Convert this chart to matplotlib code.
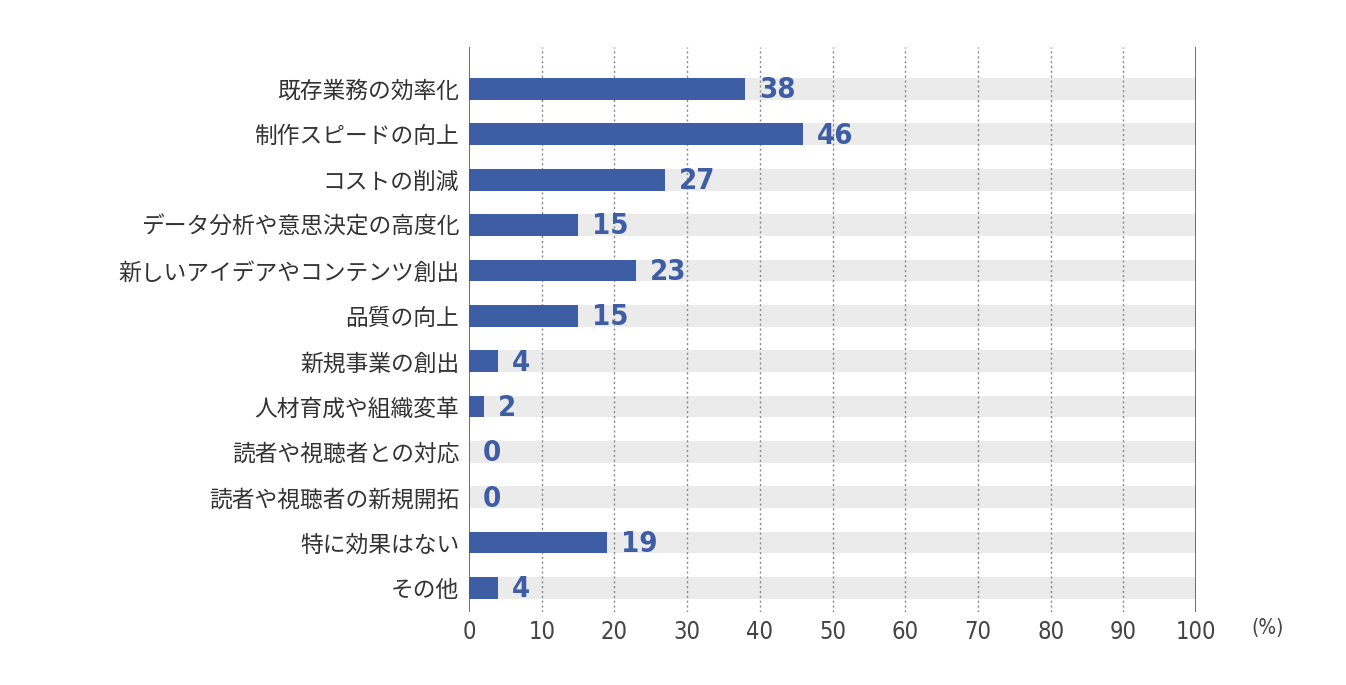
import matplotlib
matplotlib.use("Agg")
import matplotlib.pyplot as plt
from matplotlib import font_manager as fm

plt.rcParams['font.family'] = ['Noto Sans CJK JP', 'DejaVu Sans']

categories = ["既存業務の効率化", "制作スピードの向上", "コストの削減", "データ分析や意思決定の高度化",
              "新しいアイデアやコンテンツ創出", "品質の向上", "新規事業の創出", "人材育成や組織変革",
              "読者や視聴者との対応", "読者や視聴者の新規開拓", "特に効果はない", "その他"]
values = [38, 46, 27, 15, 23, 15, 4, 2, 0, 0, 19, 4]
xticks = [0, 10, 20, 30, 40, 50, 60, 70, 80, 90, 100]

BLUE = '#3d5da5'
GRAY = '#ebebeb'

fig = plt.figure(figsize=(13.46, 6.85), dpi=100)
ax = fig.add_axes([469/1346, 1-612/685, (1196-469)/1346, (612-47)/685])

ypos = list(range(len(categories)))
h = 0.48
ax.barh(ypos, [100]*len(ypos), height=h, color=GRAY, zorder=1)
for x in xticks[1:-1]:
    ax.axvline(x, color='#888888', lw=1, ls=(0, (1.5, 2)), zorder=2)
ax.axvline(0, color='#555555', lw=1.2, zorder=4)
ax.axvline(100, color='#555555', lw=1.2, zorder=4)
ax.barh(ypos, values, height=h, color=BLUE, zorder=3)

for y, v in zip(ypos, values):
    ax.annotate(str(v), xy=(v, y), xytext=(10, -1), textcoords='offset points',
                ha='left', va='center', fontsize=21, fontweight='bold',
                color=BLUE, family='DejaVu Sans', fontstretch='condensed', zorder=5)

ax.set_xlim(0, 100)
ax.set_ylim(11.53, -0.925)
ax.set_yticks(ypos)
ax.set_yticklabels(categories, fontsize=16.4, color='#333333')
ax.set_xticks(xticks)
ax.set_xticklabels([str(t) for t in xticks], fontsize=17, color='#444444',
                   family='DejaVu Sans', fontstretch='condensed')
ax.tick_params(axis='both', length=0)
ax.tick_params(axis='y', pad=7)
ax.tick_params(axis='x', pad=6)
for s in ax.spines.values():
    s.set_visible(False)

fig.text(1268/1346, 1-628/685, '(%)', ha='center', va='center', fontsize=15,
         color='#444444', family='DejaVu Sans', fontstretch='condensed')

fig.savefig('out.png', dpi=100)
